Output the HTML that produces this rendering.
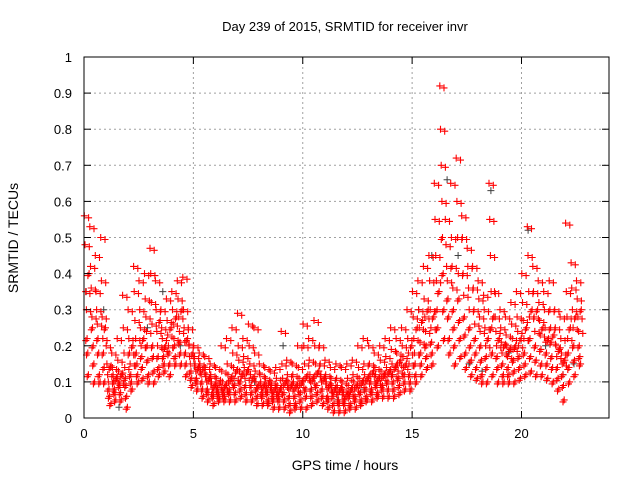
<!DOCTYPE html>
<html><head><meta charset="utf-8"><style>
body{margin:0;background:#fff}
svg{display:block;font-family:"Liberation Sans",sans-serif}
</style></head><body>
<svg id="chart" width="640" height="480" viewBox="0 0 640 480">
<text x="345" y="31" text-anchor="middle" font-size="13">Day 239 of 2015, SRMTID for receiver invr</text>
<text x="345" y="470" text-anchor="middle" font-size="14">GPS time / hours</text>
<text x="18" y="238" text-anchor="middle" font-size="14" transform="rotate(-90 18 238)">SRMTID / TECUs</text>
<g id="grid"></g><g id="marks"></g><g id="axes"></g>
</svg>
<script>
const xTicks=[0,5,10,15,20];
const yTicks=[0,0.1,0.2,0.3,0.4,0.5,0.6,0.7,0.8,0.9,1];
const yTickLabels=["0","0.1","0.2","0.3","0.4","0.5","0.6","0.7","0.8","0.9","1"];
const binWidth=0.25;
const binStarts=[0,0.25,0.5,0.75,1,1.25,1.5,1.75,2,2.25,2.5,2.75,3,3.25,3.5,3.75,4,4.25,4.5,4.75,5,5.25,5.5,5.75,6,6.25,6.5,6.75,7,7.25,7.5,7.75,8,8.25,8.5,8.75,9,9.25,9.5,9.75,10,10.25,10.5,10.75,11,11.25,11.5,11.75,12,12.25,12.5,12.75,13,13.25,13.5,13.75,14,14.25,14.5,14.75,15,15.25,15.5,15.75,16,16.25,16.5,16.75,17,17.25,17.5,17.75,18,18.25,18.5,18.75,19,19.25,19.5,19.75,20,20.25,20.5,20.75,21,21.25,21.5,21.75,22,22.25,22.5];
const redVals=[
[.56,.48,.35,.3,.22,.18,.12,.4],[.53,.42,.36,.28,.25,.2,.15,.1],[.45,.35,.3,.26,.22,.18,.12,.1],[.5,.38,.28,.22,.18,.14,.1,.25],
[.2,.15,.12,.1,.08,.06,.14,.04],[.18,.14,.12,.1,.08,.07,.05,.11],[.22,.16,.13,.1,.09,.07,.05,.12],[.34,.25,.18,.14,.11,.09,.06,.03],
[.3,.22,.18,.15,.12,.1,.08,.2],[.42,.35,.27,.22,.18,.15,.12,.1],[.38,.3,.25,.2,.17,.14,.11,.22],[.4,.33,.28,.24,.2,.16,.12,.1],
[.47,.4,.32,.26,.2,.17,.13,.1],[.38,.3,.24,.2,.17,.14,.12,.27],[.3,.25,.22,.19,.17,.15,.13,.2],[.33,.27,.23,.2,.18,.15,.12,.25],
[.35,.3,.26,.22,.2,.17,.15,.28],[.38,.33,.28,.24,.21,.18,.15,.3],[.39,.3,.25,.21,.18,.15,.12,.22],[.25,.2,.17,.15,.13,.11,.09,.18],
[.2,.17,.15,.13,.11,.1,.08,.14],[.18,.15,.13,.12,.1,.08,.06,.14],[.17,.14,.12,.1,.08,.07,.05,.11],[.15,.12,.1,.08,.07,.06,.04,.09],
[.14,.11,.09,.08,.07,.06,.05,.1],[.2,.13,.1,.08,.07,.06,.05,.09],[.22,.15,.12,.1,.08,.07,.05,.11],[.25,.18,.14,.11,.09,.07,.05,.13],
[.29,.2,.16,.13,.1,.08,.06,.12],[.22,.17,.14,.11,.09,.07,.05,.13],[.26,.2,.15,.12,.09,.07,.05,.11],[.25,.18,.13,.1,.08,.06,.04,.09],
[.15,.12,.1,.08,.07,.06,.04,.09],[.14,.11,.09,.08,.07,.05,.04,.1],[.13,.1,.09,.07,.06,.05,.03,.08],[.14,.11,.09,.07,.06,.05,.03,.08],
[.24,.15,.11,.09,.07,.05,.03,.1],[.16,.12,.1,.08,.06,.04,.02,.09],[.15,.12,.1,.08,.06,.04,.03,.09],[.2,.14,.11,.09,.07,.05,.03,.1],
[.26,.2,.15,.11,.08,.06,.03,.12],[.22,.16,.12,.1,.08,.06,.04,.11],[.27,.2,.15,.12,.09,.07,.05,.13],[.2,.15,.12,.1,.08,.06,.04,.11],
[.16,.12,.1,.08,.06,.05,.03,.09],[.14,.11,.09,.07,.06,.04,.02,.08],[.15,.11,.09,.07,.05,.04,.02,.08],[.14,.1,.08,.07,.05,.04,.02,.06],
[.15,.11,.09,.07,.06,.04,.03,.08],[.16,.12,.1,.08,.06,.05,.03,.09],[.2,.14,.11,.09,.07,.05,.04,.1],[.22,.15,.12,.1,.08,.06,.05,.11],
[.2,.15,.12,.1,.08,.07,.05,.13],[.18,.14,.12,.1,.09,.07,.06,.11],[.2,.16,.13,.11,.09,.08,.06,.12],[.22,.17,.14,.12,.1,.08,.06,.13],
[.25,.19,.15,.12,.1,.08,.06,.14],[.22,.18,.15,.13,.11,.09,.07,.16],[.25,.2,.17,.14,.12,.1,.08,.15],[.3,.22,.18,.15,.12,.1,.08,.2],
[.35,.28,.22,.18,.15,.12,.1,.25],[.38,.3,.25,.21,.18,.15,.12,.27],[.42,.33,.28,.24,.2,.17,.14,.3],[.45,.38,.3,.25,.21,.18,.15,.28],
[.65,.55,.45,.38,.3,.25,.2,.35],[.92,.8,.7,.6,.5,.4,.3,.22],[.55,.48,.42,.38,.33,.28,.22,.18],[.65,.5,.42,.36,.3,.25,.2,.15],
[.72,.6,.5,.4,.33,.27,.22,.17],[.56,.5,.4,.34,.28,.23,.18,.14],[.47,.42,.36,.3,.25,.2,.16,.12],[.42,.36,.3,.26,.22,.18,.14,.11],
[.38,.33,.28,.24,.2,.16,.12,.1],[.34,.3,.25,.2,.17,.14,.1,.22],[.65,.55,.45,.35,.25,.18,.12,.28],[.35,.28,.24,.2,.17,.14,.1,.22],
[.3,.25,.21,.18,.15,.12,.1,.2],[.28,.23,.2,.17,.14,.12,.1,.19],[.32,.26,.22,.19,.16,.13,.1,.2],[.35,.28,.24,.2,.17,.14,.11,.22],
[.4,.32,.27,.22,.18,.15,.12,.25],[.53,.45,.35,.28,.22,.17,.13,.3],[.42,.35,.28,.24,.2,.16,.12,.3],[.38,.32,.27,.23,.19,.15,.12,.25],
[.35,.3,.25,.21,.18,.15,.11,.22],[.38,.3,.25,.21,.17,.14,.1,.23],[.3,.25,.2,.17,.14,.11,.08,.19],[.28,.22,.18,.15,.12,.09,.05,.16],
[.54,.35,.28,.22,.18,.14,.1,.25],[.43,.36,.3,.25,.2,.16,.12,.28],[.38,.33,.28,.24,.2,.17,.15,.3]];
const grayTimes=[0.1,0.9,1.6,2.9,3.6,4.4,6.1,7.8,9.1,10.4,11.6,12.8,14.1,15.3,15.9,16.6,17.1,17.6,18.2,18.6,19.4,20.3,21.1,21.9,22.4];
const grayVals=[0.35,0.3,0.03,0.25,0.35,0.2,0.08,0.1,0.2,0.08,0.05,0.08,0.12,0.3,0.45,0.66,0.45,0.15,0.13,0.63,0.18,0.52,0.2,0.12,0.15];

const L=84,R=609,T=57,B=418,XMAX=24;
const ns="http://www.w3.org/2000/svg";
const X=v=>L+(R-L)*v/XMAX;
const Y=v=>B-(B-T)*v;
function mk(tag,attrs,parent){const e=document.createElementNS(ns,tag);for(const k in attrs)e.setAttribute(k,attrs[k]);document.getElementById(parent).appendChild(e);return e;}

xTicks.forEach((t,i)=>{
 if(t>0){const g=mk('line',{x1:X(t),x2:X(t),y1:T,y2:B,stroke:'#a0a0a0','stroke-dasharray':'2,3'},'grid');
 
 }
 const a=mk('line',{x1:X(t),x2:X(t),y1:B,y2:B-7,stroke:'#000'},'axes');
 
 
 const b=mk('line',{x1:X(t),x2:X(t),y1:T,y2:T+7,stroke:'#000'},'axes');
 
 
 const tx=mk('text',{x:X(t),y:B+20,'text-anchor':'middle','font-size':13},'axes');tx.textContent=String(t);
 
 
});
yTicks.forEach((t,i)=>{
 if(t>0&&t<1){const g=mk('line',{x1:L,x2:R,y1:Y(t),y2:Y(t),stroke:'#a0a0a0','stroke-dasharray':'2,3'},'grid');
 
 }
 const a=mk('line',{x1:L,x2:L+7,y1:Y(t),y2:Y(t),stroke:'#000'},'axes');
 
 
 const b=mk('line',{x1:R,x2:R-7,y1:Y(t),y2:Y(t),stroke:'#000'},'axes');
 
 
 const tx=mk('text',{x:L-12,y:Y(t)+5,'text-anchor':'end','font-size':13},'axes');tx.textContent=yTickLabels[i];
 
 
});
const fr=mk('rect',{x:L,y:T,width:R-L,height:B-T,fill:'none',stroke:'#000'},'axes');



function plus(x,y){return `M${(x-3.5).toFixed(1)} ${y.toFixed(1)}h7M${x.toFixed(1)} ${(y-3.5).toFixed(1)}v7`;}
let gd='';
grayTimes.forEach((t,i)=>{gd+=plus(X(t),Y(grayVals[i]));});
const gp=mk('path',{d:gd,stroke:'#404040','stroke-width':1,fill:'none'},'marks');


let rd='';
binStarts.forEach((s,i)=>{const vals=redVals[i];vals.forEach((v,j)=>{
 const t=s+binWidth*(j+0.5)/vals.length;
 const t2=s+binWidth*((j+4)%vals.length+0.5)/vals.length;
 rd+=plus(X(t),Y(v));
 rd+=plus(X(t2)+1.5,Y(v)+2);
});});
const rp=mk('path',{d:rd,stroke:'#ff0000','stroke-width':1.1,fill:'none'},'marks');


</script>
</body></html>
